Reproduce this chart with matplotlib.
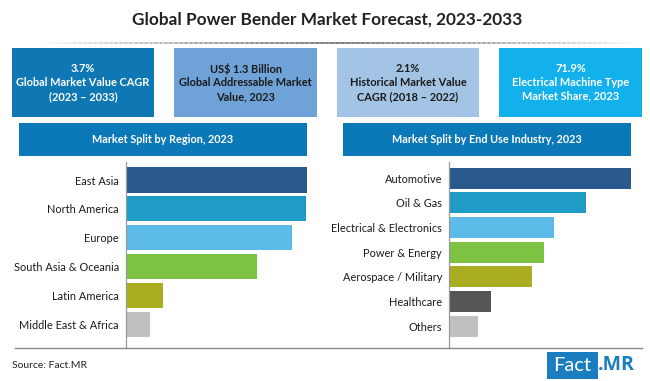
import numpy as np
import matplotlib
matplotlib.use("Agg")
import matplotlib.pyplot as plt
from matplotlib.patches import Rectangle

plt.rcParams['font.family'] = ['Lato', 'DejaVu Sans']

W, H = 650, 381

# KPI cards
kpi_text = ["3.7%\nGlobal Market Value CAGR\n(2023 \u2013 2033)",
            "US$ 1.3 Billion\nGlobal Addressable Market\nValue, 2023",
            "2.1%\nHistorical Market Value\nCAGR (2018 \u2013 2022)",
            "71.9%\nElectrical Machine Type\nMarket Share, 2023"]
kpi_colors = ["#0f78b4", "#6fa2d7", "#a3c4e5", "#13b1ec"]
kpi_text_colors = ["white", "#1a1a1a", "#1a1a1a", "white"]

# region split (relative bar lengths, East Asia = 100)
regions = ["East Asia", "North America", "Europe", "South Asia & Oceania",
           "Latin America", "Middle East & Africa"]
region_vals = [100, 99.5, 91.7, 72.4, 20.4, 13.3]
region_colors = ["#2a5a8c", "#1f9cc6", "#5cbbe7", "#7dc242", "#a9ad1f", "#c0c0c0"]

# end use split (relative bar lengths, Automotive = 100)
industries = ["Automotive", "Oil & Gas", "Electrical & Electronics", "Power & Energy",
              "Aerospace / Military", "Healthcare", "Others"]
industry_vals = [100, 75.3, 57.7, 52.2, 45.6, 23.1, 15.9]
industry_colors = ["#2a5a8c", "#1f9cc6", "#5cbbe7", "#7dc242", "#a9ad1f", "#555555", "#c0c0c0"]

fig = plt.figure(figsize=(W / 100, H / 100), dpi=100)


def px_rect(x0, y0, x1, y1):
    # pixel box (top-left origin) -> figure fraction rect
    return [x0 / W, 1 - y1 / H, (x1 - x0) / W, (y1 - y0) / H]


def add_box(x0, y0, x1, y1, color):
    r = px_rect(x0, y0, x1, y1)
    fig.patches.append(Rectangle((r[0], r[1]), r[2], r[3], transform=fig.transFigure,
                                 facecolor=color, edgecolor="none", zorder=0))


# title and separator
fig.text(327 / W, 1 - 20 / H, "Global Power Bender Market Forecast, 2023-2033",
         ha="center", va="center", fontsize=12.4, fontweight="bold", color="#222222")
xs = np.linspace(40, 640, 120)
for a, b in zip(xs[:-1], xs[1:]):
    m = (a + b) / 2
    alpha = max(0.0, 1 - abs(m - 340) / 300)
    fig.add_artist(plt.Line2D([a / W, b / W], [1 - 42.5 / H] * 2, transform=fig.transFigure,
                              color="#777777", alpha=alpha, lw=1.2))

# KPI boxes
box_x = [(12, 154), (174, 317), (337, 479), (499, 642)]
for (x0, x1), txt, c, tc in zip(box_x, kpi_text, kpi_colors, kpi_text_colors):
    add_box(x0, 48, x1, 117, c)
    fig.text((x0 + x1) / 2 / W, 1 - 82.5 / H, txt, ha="center", va="center",
             fontsize=7.9, fontweight="bold", color=tc, linespacing=1.3)

# section headers
add_box(19, 123, 307, 156, "#0b79b8")
fig.text(163 / W, 1 - 139.5 / H, "Market Split by Region, 2023", ha="center", va="center",
         fontsize=7.8, fontweight="bold", color="white")
add_box(343, 123, 631, 156, "#0b79b8")
fig.text(487 / W, 1 - 139.5 / H, "Market Split by End Use Industry, 2023", ha="center",
         va="center", fontsize=7.8, fontweight="bold", color="white")


def bar_panel(rect, labels, vals, colors, ylim, height):
    ax = fig.add_axes(rect)
    y = np.arange(len(labels))
    ax.barh(y, vals, height=height, color=colors)
    ax.set_xlim(0, 100)
    ax.set_ylim(*ylim)
    ax.set_yticks(y)
    ax.set_yticklabels(labels, fontsize=7.9, color="#1a1a1a")
    ax.set_xticks([])
    ax.tick_params(axis="y", length=0, pad=5)
    for s in ["top", "right", "bottom"]:
        ax.spines[s].set_visible(False)
    ax.spines["left"].set_color("#9a9a9a")
    ax.spines["left"].set_linewidth(0.9)
    ax.patch.set_alpha(0)
    return ax


bar_panel(px_rect(126, 162, 307, 348), regions, region_vals, region_colors,
          (5.83, -0.625), 0.87)
bar_panel(px_rect(449, 162, 631, 348), industries, industry_vals, industry_colors,
          (6.89, -0.65), 0.85)

# bottom rule
fig.add_artist(plt.Line2D([15 / W, 642 / W], [1 - 348 / H] * 2, transform=fig.transFigure,
                          color="#8a8a8a", lw=1.0))

# footer
fig.text(12 / W, 1 - 365 / H, "Source: Fact.MR", ha="left", va="center",
         fontsize=7.5, color="#222222")
add_box(547, 352, 598, 379, "#1a7dbf")
fig.text(572.5 / W, 1 - 365.5 / H, "Fact", ha="center", va="center", fontsize=14.5,
         color="white")
fig.text(598 / W, 1 - 365.5 / H, ".MR", ha="left", va="center", fontsize=14,
         fontweight="bold", family=["Open Sans", "DejaVu Sans"], color="#1a7dbf")

fig.savefig("out.png", dpi=100)
